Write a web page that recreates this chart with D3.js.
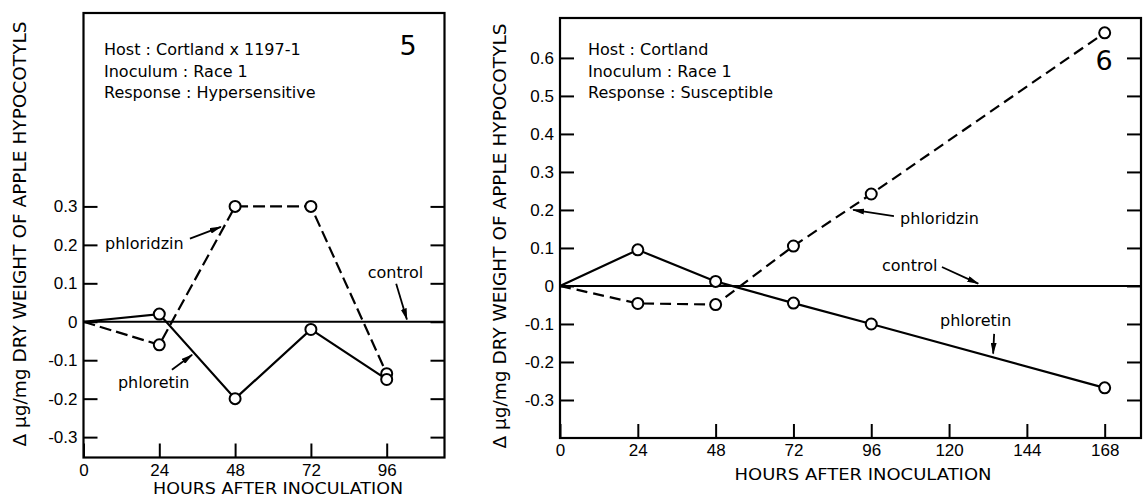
<!DOCTYPE html>
<html>
<head>
<meta charset="utf-8">
<script src="https://cdn.jsdelivr.net/npm/d3@7"></script>
<style>
  body { margin: 0; background: #fff; }
  svg { display: block; font-family: "DejaVu Sans", "Liberation Sans", sans-serif; }
</style>
</head>
<body>
<svg id="chart" width="1143" height="499"></svg>
<script>
// Figure 5: Cortland x 1197-1 (hypersensitive)
var hoursLeft = [0, 24, 48, 72, 96];
var phloretinLeft = [0, 0.02, -0.2, -0.02, -0.15];
var phloridzinLeft = [0, -0.06, 0.3, 0.3, -0.135];
var xTicksLeft = [0, 24, 48, 72, 96];
var yTicksLeft = [-0.3, -0.2, -0.1, 0, 0.1, 0.2, 0.3];
var infoLeft = ["Host : Cortland x 1197-1", "Inoculum : Race 1", "Response : Hypersensitive"];

// Figure 6: Cortland (susceptible)
var hoursRight = [0, 24, 48, 72, 96, 168];
var phloretinRight = [0, 0.095, 0.012, -0.045, -0.1, -0.268];
var phloridzinRight = [0, -0.046, -0.049, 0.105, 0.242, 0.666];
var xTicksRight = [0, 24, 48, 72, 96, 120, 144, 168];
var yTicksRight = [-0.3, -0.2, -0.1, 0, 0.1, 0.2, 0.3, 0.4, 0.5, 0.6];
var infoRight = ["Host : Cortland", "Inoculum : Race 1", "Response : Susceptible"];

// annotation labels, in data units: [label, textHour, textValue, fromHour, fromValue, toHour, toValue]
var notesLeft = [
    ["phloridzin", 6.8, 0.19, 33.7, 0.216, 43.5, 0.247],
    ["phloretin", 10.9, -0.171, 28, -0.125, 34.4, -0.086],
    ["control", 90, 0.114, 99, 0.099, 102.4, 0.006]
];
var notesRight = [
    ["phloridzin", 104.9, 0.163, 103, 0.184, 90.4, 0.2],
    ["control", 99.3, 0.04, 117.8, 0.05, 129, 0.006],
    ["phloretin", 117.2, -0.105, 133.9, -0.126, 133.6, -0.178]
];

var yTitle = "\u0394 \u00b5g/mg DRY WEIGHT OF APPLE HYPOCOTYLS";
var xTitle = "HOURS AFTER INOCULATION";

var svg = d3.select("#chart");

svg.append("defs").append("marker")
    .attr("id", "arrow")
    .attr("viewBox", "0 0 12 6")
    .attr("refX", 11)
    .attr("refY", 3)
    .attr("markerWidth", 12)
    .attr("markerHeight", 6)
    .attr("markerUnits", "userSpaceOnUse")
    .attr("orient", "auto")
    .append("path")
    .attr("d", "M0,0 L12,3 L0,6 Z")
    .attr("fill", "#000");

function fmt(d) {
    return d === 0 ? "0" : d.toFixed(1);
}

function drawPanel(p) {
    var width = p.right - p.left,
        height = p.bottom - p.top;

    var x = d3.scaleLinear().domain(p.xDomain).range([0, width]);
    var y = d3.scaleLinear().domain(p.yDomain).range([height, 0]);

    var g = svg.append("g")
        .attr("transform", "translate(" + p.left + "," + p.top + ")");

    // axes with ticks pointing inward
    var gy = g.append("g")
        .call(d3.axisLeft(y).tickValues(p.yTicks).tickSize(-14).tickPadding(6).tickFormat(fmt));
    var gyr = g.append("g")
        .attr("transform", "translate(" + width + ",0)")
        .call(d3.axisRight(y).tickValues(p.yTicks).tickSize(-14).tickFormat(""));
    var gx = g.append("g")
        .attr("transform", "translate(0," + height + ")")
        .call(d3.axisBottom(x).tickValues(p.xTicks).tickSize(-14).tickPadding(6).tickFormat(d3.format("d")));

    [gy, gyr, gx].forEach(function(a) {
        a.select(".domain").remove();
        a.selectAll("line").attr("stroke", "#000").attr("stroke-width", 2);
        a.selectAll("text").attr("fill", "#000").style("font-size", "17px");
    });

    g.append("rect")
        .attr("width", width)
        .attr("height", height)
        .attr("fill", "none")
        .attr("stroke", "#000")
        .attr("stroke-width", 2.2);

    // control line
    g.append("line")
        .attr("x1", x(p.xDomain[0]))
        .attr("x2", x(p.xDomain[1]))
        .attr("y1", y(0))
        .attr("y2", y(0))
        .attr("stroke", "#000")
        .attr("stroke-width", 2);

    var line = d3.line()
        .x(function(d) { return x(d[0]); })
        .y(function(d) { return y(d[1]); });

    var series = [
        { values: p.phloridzin, dash: p.dash },
        { values: p.phloretin, dash: null }
    ];
    series.forEach(function(s) {
        var pts = p.hours.map(function(h, i) { return [h, s.values[i]]; });
        g.append("path")
            .datum(pts)
            .attr("d", line)
            .attr("fill", "none")
            .attr("stroke", "#000")
            .attr("stroke-width", 2.2)
            .attr("stroke-dasharray", s.dash);
        g.selectAll(null)
            .data(pts.slice(1))
            .enter().append("circle")
            .attr("cx", function(d) { return x(d[0]); })
            .attr("cy", function(d) { return y(d[1]); })
            .attr("r", 5.5)
            .attr("fill", "#fff")
            .attr("stroke", "#000")
            .attr("stroke-width", 2);
    });

    // info block
    var info = g.append("text")
        .attr("x", p.infoX - p.left)
        .attr("y", p.infoY - p.top)
        .style("font-size", "16px");
    p.info.forEach(function(t, i) {
        info.append("tspan")
            .attr("x", p.infoX - p.left)
            .attr("dy", i === 0 ? 0 : 21.5)
            .text(t);
    });

    g.append("text")
        .attr("x", p.numX - p.left)
        .attr("y", p.numY - p.top)
        .attr("text-anchor", "middle")
        .style("font-size", "27px")
        .text(p.num);

    // annotations
    p.notes.forEach(function(n) {
        g.append("text")
            .attr("x", x(n[1]))
            .attr("y", y(n[2]))
            .style("font-size", "16px")
            .text(n[0]);
        g.append("line")
            .attr("x1", x(n[3]))
            .attr("y1", y(n[4]))
            .attr("x2", x(n[5]))
            .attr("y2", y(n[6]))
            .attr("stroke", "#000")
            .attr("stroke-width", 1.8)
            .attr("marker-end", "url(#arrow)");
    });

    // axis titles
    svg.append("text")
        .attr("transform", "translate(" + p.yTitleX + "," + p.yTitleY + ") rotate(-90)")
        .attr("text-anchor", "middle")
        .attr("dy", "0.35em")
        .attr("textLength", 425)
        .attr("lengthAdjust", "spacingAndGlyphs")
        .style("font-size", "17px")
        .text(yTitle);

    svg.append("text")
        .attr("x", p.xTitleX)
        .attr("y", p.xTitleY)
        .attr("text-anchor", "middle")
        .attr("dy", "0.35em")
        .attr("textLength", p.xTitleLen)
        .attr("lengthAdjust", "spacingAndGlyphs")
        .style("font-size", "16px")
        .text(xTitle);
}

drawPanel({
    left: 83.5, right: 444.5, top: 13, bottom: 457.5,
    xDomain: [0, 114.3], yDomain: [-0.353, 0.803],
    xTicks: xTicksLeft, yTicks: yTicksLeft,
    hours: hoursLeft, phloretin: phloretinLeft, phloridzin: phloridzinLeft,
    dash: "12,5",
    info: infoLeft, infoX: 104, infoY: 55,
    num: "5", numX: 408, numY: 55,
    notes: notesLeft,
    yTitleX: 20, yTitleY: 234,
    xTitleX: 278, xTitleY: 488, xTitleLen: 250
});

drawPanel({
    left: 560, right: 1141, top: 18, bottom: 438,
    xDomain: [0, 179.2], yDomain: [-0.4, 0.705],
    xTicks: xTicksRight, yTicks: yTicksRight,
    hours: hoursRight, phloretin: phloretinRight, phloridzin: phloridzinRight,
    dash: "11,6",
    info: infoRight, infoX: 588, infoY: 55,
    num: "6", numX: 1104, numY: 70,
    notes: notesRight,
    yTitleX: 500, yTitleY: 236,
    xTitleX: 863, xTitleY: 474, xTitleLen: 257
});
</script>
</body>
</html>
